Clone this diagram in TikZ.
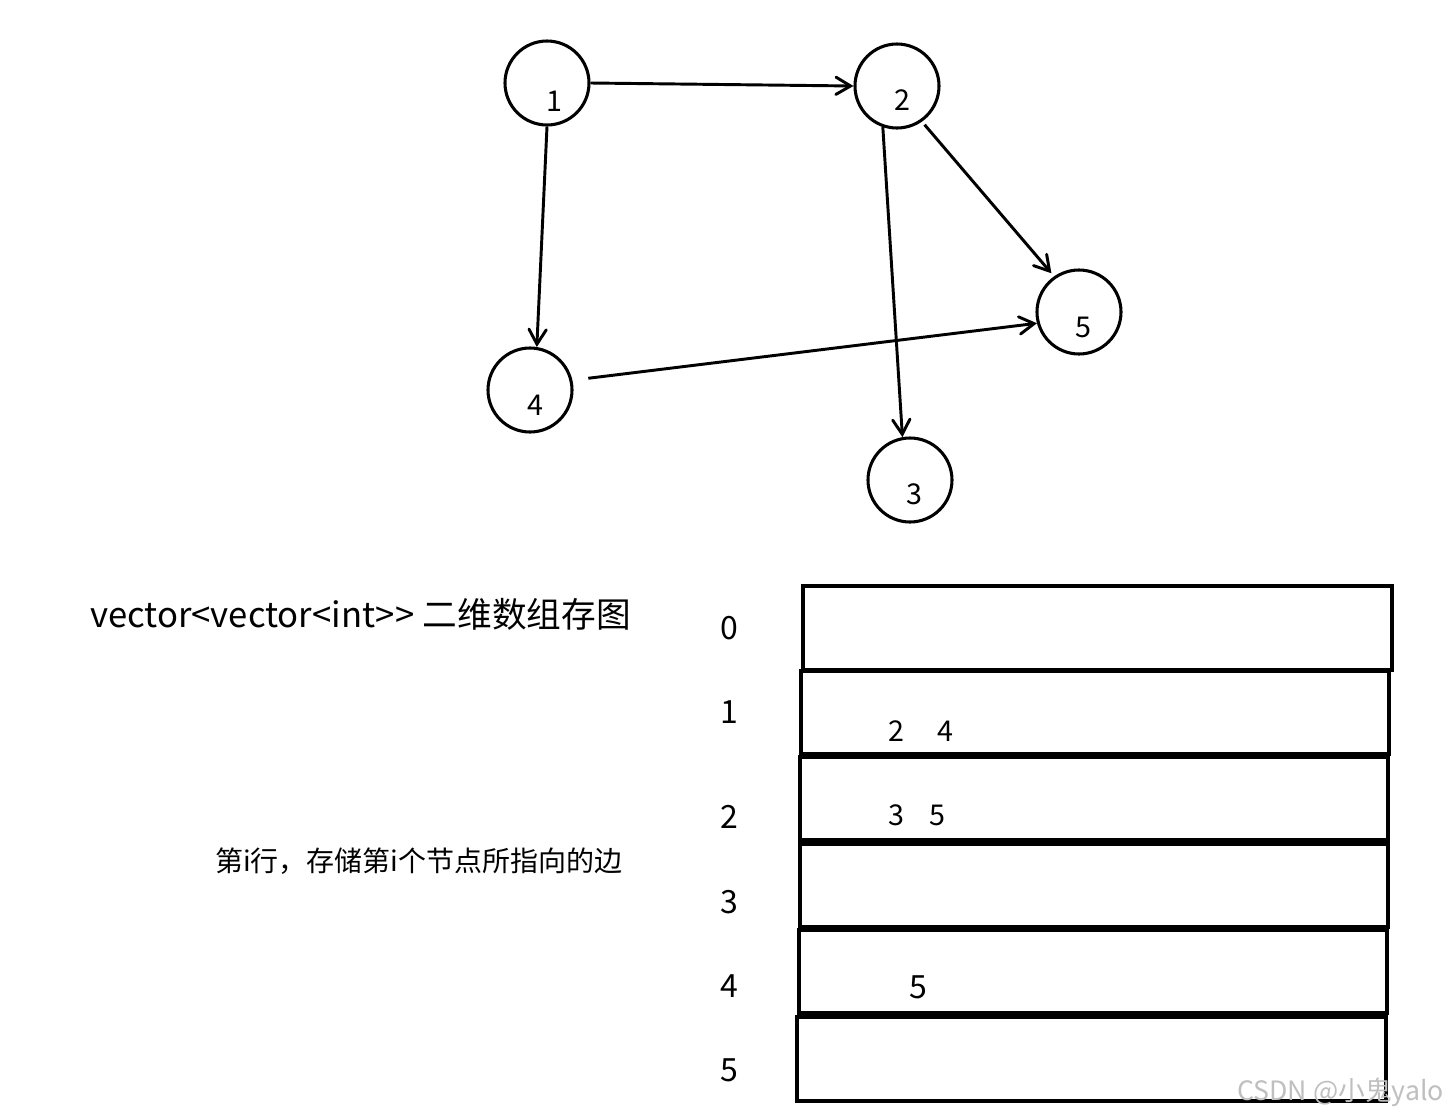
\documentclass[tikz,border=0pt]{standalone}
\usepackage{fontspec}
\setmainfont{Noto Sans CJK SC}
\usetikzlibrary{arrows.meta}
\begin{document}
\begin{tikzpicture}[x=0.75pt,y=-0.75pt,
  vert/.style={circle,draw,line width=2.3pt,minimum size=63pt,inner sep=0pt},
  vlabel/.style={inner sep=0pt,font=\fontsize{21.5pt}{26pt}\selectfont},
  rlabel/.style={inner sep=0pt,font=\fontsize{24pt}{29pt}\selectfont},
  clabel/.style={inner sep=0pt,font=\fontsize{21.5pt}{26pt}\selectfont},
  arr/.style={line width=2.2pt,-{Straight Barb[length=11pt,width=13pt,line cap=round]}},
  rowbox/.style={line width=2.5pt},
]
\useasboundingbox[fill=white] (0,0) rectangle (1447,1118);

% graph vertices
\node[vert] (n1) at (547,83) {};
\node[vert] (n2) at (897,86) {};
\node[vert] (n5) at (1079,312) {};
\node[vert] (n4) at (530,390) {};
\node[vert] (n3) at (910,480) {};

\node[vlabel] (l1) at (554,101) {1};
\node[vlabel] (l2) at (902,100) {2};
\node[vlabel] (l5) at (1083,327) {5};
\node[vlabel] (l4) at (535,405) {4};
\node[vlabel] (l3) at (914,494) {3};

% edges
\draw[arr] (n1.east) -- (n2.west);
\draw[arr] (n1.south) -- (n4.81);
\draw[arr] (n2.251) -- (n3.100);
\draw[arr,shorten <=3pt,shorten >=3pt] (n2.305) -- (n5.125);
\draw[arr,shorten <=12pt] (n4.13) -- (n5.195);

% captions
\node[inner sep=0pt,anchor=west,font=\fontsize{26pt}{31pt}\selectfont] (t1) at (90,614) {vector<vector<int>\kern1pt> 二维数组存图};
\node[inner sep=0pt,anchor=west,font=\fontsize{21pt}{25pt}\selectfont] (t2) at (215,861) {第i行，存储第i个节点所指向的边};

% table rows
\draw[rowbox] (803,586) rectangle (1392,670);
\draw[rowbox] (801,671) rectangle (1389,754);
\draw[rowbox] (800,757) rectangle (1388,840);
\draw[rowbox] (800,844) rectangle (1388,927);
\draw[rowbox] (799,930) rectangle (1387,1013);
\draw[rowbox] (797,1017) rectangle (1386,1101);

% row indices
\node[rlabel] (r0) at (729,628) {0};
\node[rlabel] (r1) at (729,712) {1};
\node[rlabel] (r2) at (729,817) {2};
\node[rlabel] (r3) at (729,902) {3};
\node[rlabel] (r4) at (729,986) {4};
\node[rlabel] (r5) at (729,1070) {5};

% row contents
\node[clabel] (c12) at (896,731) {2};
\node[clabel] (c14) at (945,731) {4};
\node[clabel] (c23) at (896,815) {3};
\node[clabel] (c25) at (937,815) {5};
\node[rlabel] (c45) at (918,987) {5};

% watermark
\node[inner sep=0pt,anchor=east,text=black!25,font=\fontsize{20pt}{24pt}\selectfont] (wm) at (1444,1092) {CSDN @小鬼yalo};
\end{tikzpicture}
\end{document}
